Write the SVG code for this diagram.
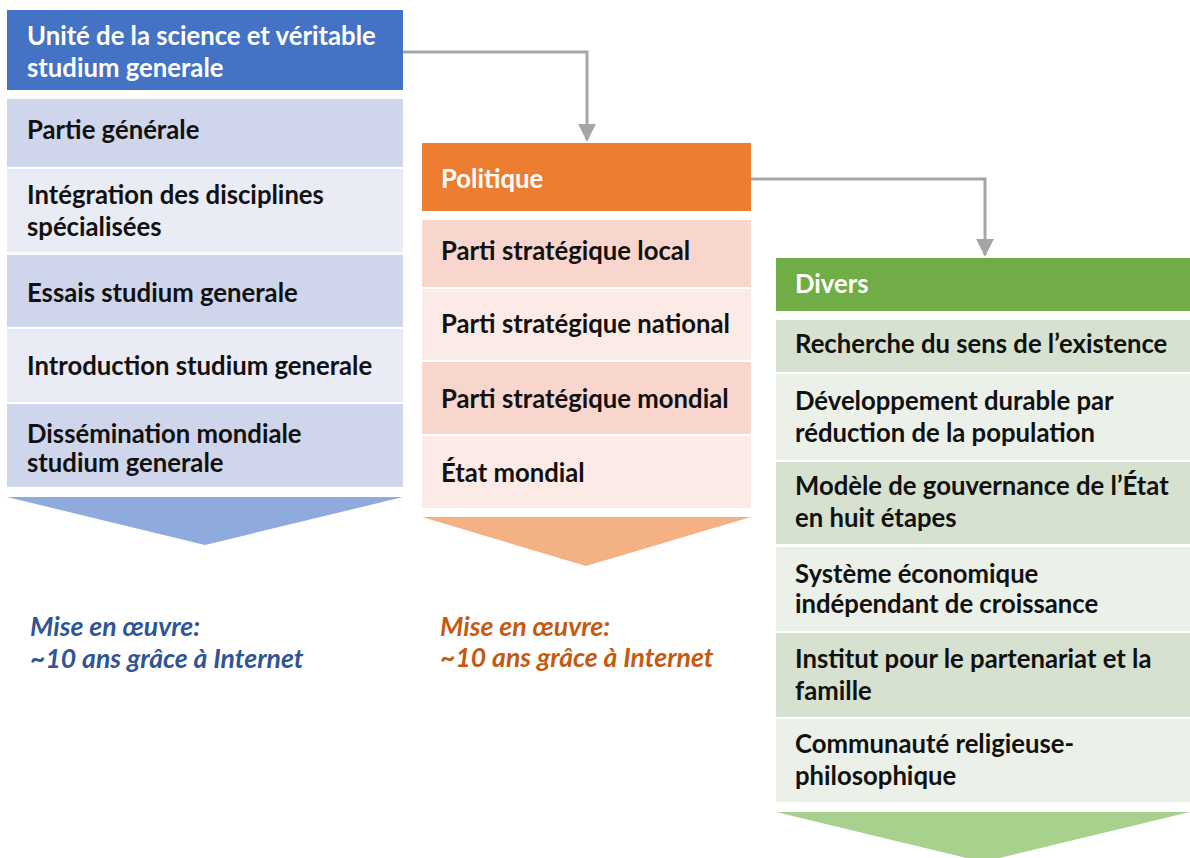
<svg xmlns="http://www.w3.org/2000/svg" width="1190" height="858" viewBox="0 0 1190 858">
<defs>
<style>
.t{font-family:Lato,"Liberation Sans",sans-serif;font-weight:bold;font-size:25.7px;fill:#111}
.h{font-family:Lato,"Liberation Sans",sans-serif;font-weight:bold;font-size:25.7px;fill:#fff}
.f{font-family:Lato,"Liberation Sans",sans-serif;font-weight:bold;font-style:italic;font-size:26.6px}
.conn{fill:none;stroke:#a5a5a5;stroke-width:3}
</style>
<marker id="ah" viewBox="0 0 10 10" refX="9" refY="5" markerWidth="6" markerHeight="6" orient="auto" markerUnits="strokeWidth">
<path d="M0,0 L10,5 L0,10 z" fill="#a5a5a5"/>
</marker>
</defs>
<rect width="1190" height="858" fill="#fff"/>

<g id="col1">
<rect x="7" y="10" width="396" height="80" fill="#4472c4"/>
<text class="h" x="27" y="45">Unité de la science et véritable</text>
<text class="h" x="27" y="77">studium generale</text>
<rect x="7" y="99" width="396" height="68" fill="#cfd5ea"/>
<text class="t" x="27" y="139">Partie générale</text>
<rect x="7" y="169" width="396" height="83" fill="#e9ebf5"/>
<text class="t" x="27" y="204">Intégration des disciplines</text>
<text class="t" x="27" y="236">spécialisées</text>
<rect x="7" y="255" width="396" height="72" fill="#cfd5ea"/>
<text class="t" x="27" y="302">Essais studium generale</text>
<rect x="7" y="329" width="396" height="73" fill="#e9ebf5"/>
<text class="t" x="27" y="375">Introduction studium generale</text>
<rect x="7" y="404" width="396" height="83" fill="#cfd5ea"/>
<text class="t" x="27" y="443">Dissémination mondiale</text>
<text class="t" x="27" y="472">studium generale</text>
<path d="M7,497 L403,497 L205,545 z" fill="#8faadc"/>
<text class="f" x="30" y="636" fill="#2f5597">Mise en œuvre:</text>
<text class="f" x="30" y="668" fill="#2f5597">~10 ans grâce à Internet</text>
</g>

<g id="col2">
<rect x="422" y="143" width="329" height="68" fill="#ed7d31"/>
<text class="h" x="441" y="188">Politique</text>
<rect x="422" y="220" width="329" height="67" fill="#f8d6cd"/>
<text class="t" x="441" y="260">Parti stratégique local</text>
<rect x="422" y="289" width="329" height="71" fill="#fbeae6"/>
<text class="t" x="441" y="333">Parti stratégique national</text>
<rect x="422" y="362" width="329" height="72" fill="#f8d6cd"/>
<text class="t" x="441" y="408">Parti stratégique mondial</text>
<rect x="422" y="436" width="329" height="72" fill="#fbeae6"/>
<text class="t" x="441" y="482">État mondial</text>
<path d="M422,517 L751,517 L586,566 z" fill="#f4b183"/>
<text class="f" x="440" y="636" fill="#c55a11">Mise en œuvre:</text>
<text class="f" x="440" y="667" fill="#c55a11">~10 ans grâce à Internet</text>
</g>

<g id="col3">
<rect x="776" y="258" width="414" height="53" fill="#70ad47"/>
<text class="h" x="795" y="293">Divers</text>
<rect x="776" y="320" width="414" height="52" fill="#d6e2cf"/>
<text class="t" x="795" y="353">Recherche du sens de l’existence</text>
<rect x="776" y="374" width="414" height="86" fill="#ebf0e8"/>
<text class="t" x="795" y="410">Développement durable par</text>
<text class="t" x="795" y="442">réduction de la population</text>
<rect x="776" y="462" width="414" height="82" fill="#d6e2cf"/>
<text class="t" x="795" y="495">Modèle de gouvernance de l’État</text>
<text class="t" x="795" y="527">en huit étapes</text>
<rect x="776" y="547" width="414" height="84" fill="#ebf0e8"/>
<text class="t" x="795" y="583">Système économique</text>
<text class="t" x="795" y="613">indépendant de croissance</text>
<rect x="776" y="633" width="414" height="84" fill="#d6e2cf"/>
<text class="t" x="795" y="668">Institut pour le partenariat et la</text>
<text class="t" x="795" y="700">famille</text>
<rect x="776" y="719" width="414" height="83" fill="#ebf0e8"/>
<text class="t" x="795" y="753">Communauté religieuse-</text>
<text class="t" x="795" y="785">philosophique</text>
<path d="M776,812 L1190,812 L983,862 z" fill="#a9d18e"/>
</g>

<g id="connectors">
<path class="conn" d="M403,52 L587,52 L587,140" marker-end="url(#ah)"/>
<path class="conn" d="M751,179 L985,179 L985,255" marker-end="url(#ah)"/>
</g>
</svg>
